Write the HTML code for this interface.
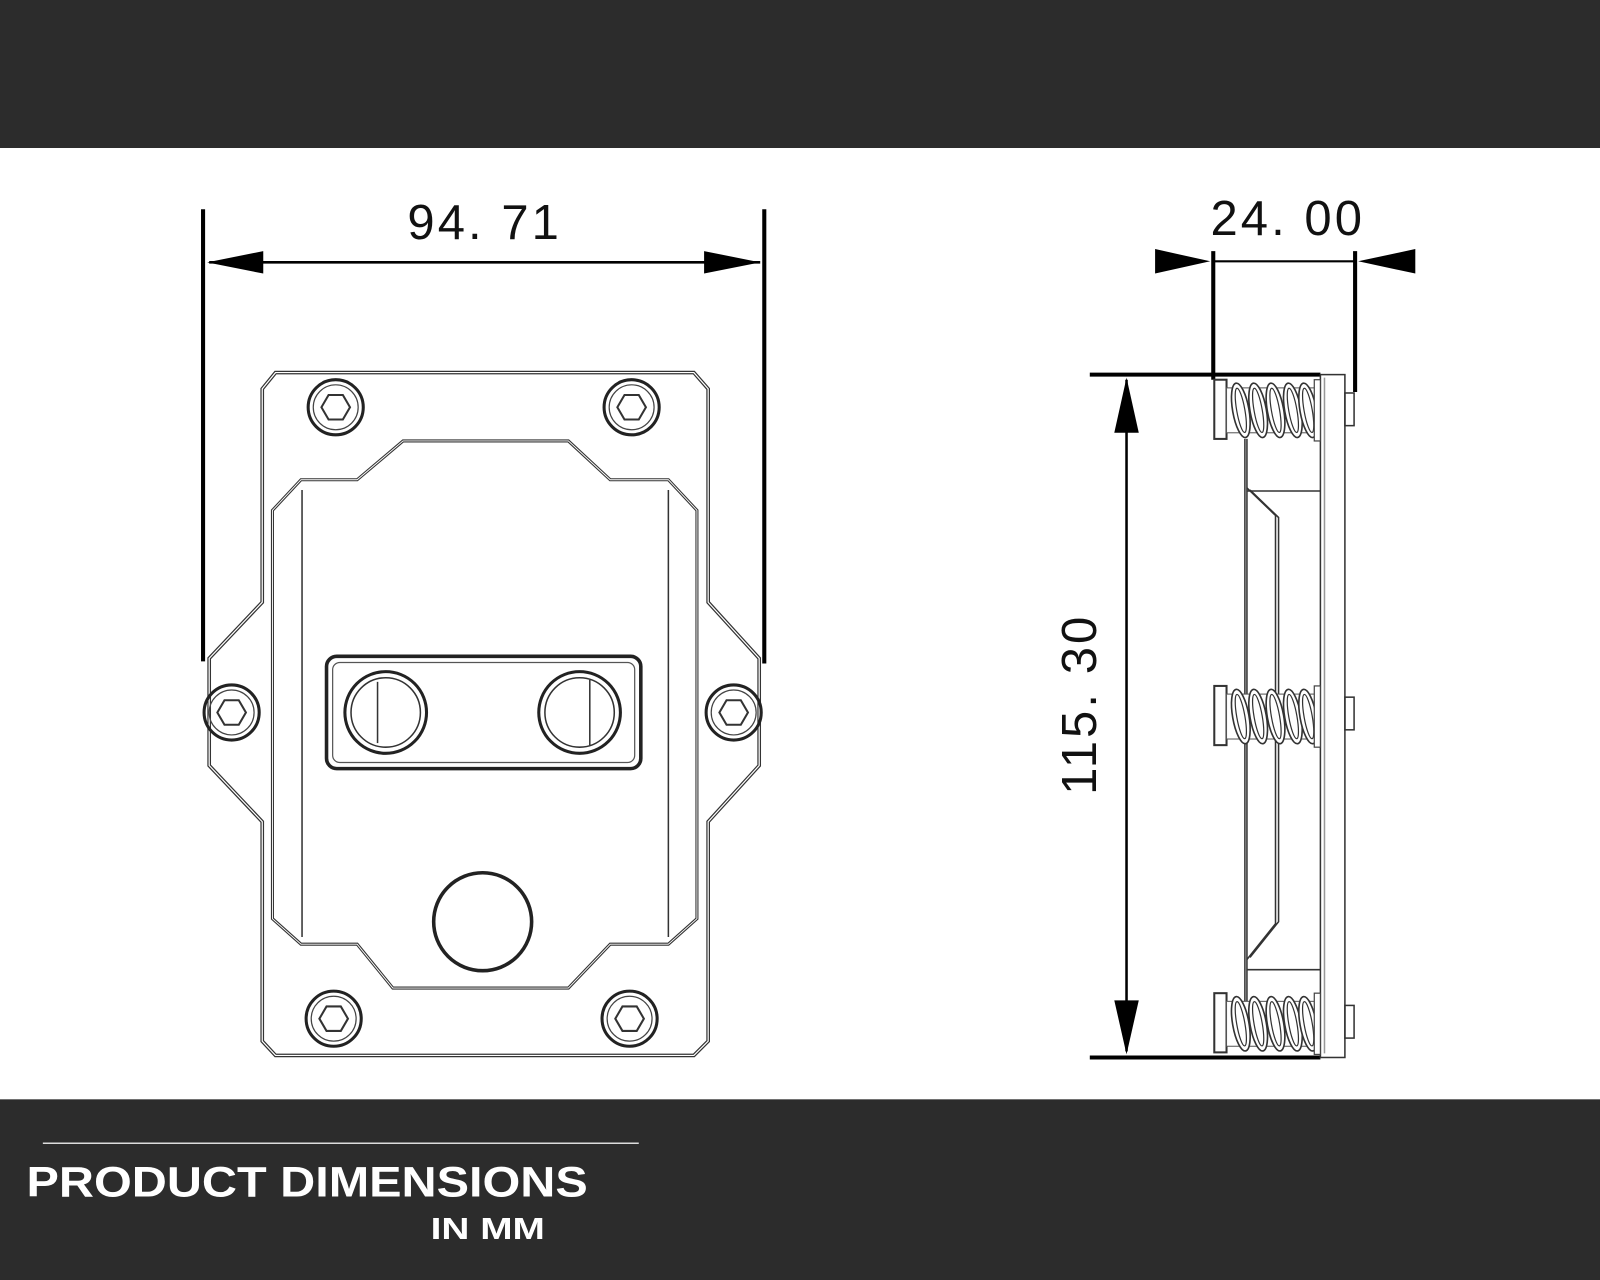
<!DOCTYPE html>
<html><head><meta charset="utf-8"><style>
html,body{margin:0;padding:0;background:#fff;width:1600px;height:1280px;overflow:hidden}
svg{display:block}
</style></head><body>
<svg width="1600" height="1280" viewBox="0 0 1568 1254" preserveAspectRatio="none" xmlns="http://www.w3.org/2000/svg">
<defs>
<g id="bolt"><circle r="27" fill="none" stroke="#222" stroke-width="3"/><circle r="22" fill="none" stroke="#444" stroke-width="1.2"/><polygon points="-14,0 -7,-12 7,-12 14,0 7,12 -7,12" fill="none" stroke="#333" stroke-width="2"/></g>
<g id="coil"><ellipse cx="0" cy="0" rx="8" ry="27" transform="rotate(-10)" fill="#fff" stroke="#333" stroke-width="1.6"/><ellipse cx="0" cy="0" rx="4" ry="22" transform="rotate(-10)" fill="none" stroke="#333" stroke-width="1.2"/></g>
<g id="spring">
<rect x="1190" y="0" width="12" height="58" fill="#fff" stroke="#333" stroke-width="2"/>
<rect x="1202" y="8" width="88" height="44" fill="#fff" stroke="#555" stroke-width="1"/>
<use href="#coil" x="1216" y="30"/>
<use href="#coil" x="1233" y="30"/>
<use href="#coil" x="1250" y="30"/>
<use href="#coil" x="1267" y="30"/>
<use href="#coil" x="1282" y="30"/>
<rect x="1288" y="0" width="6" height="60" fill="#fff" stroke="#444" stroke-width="1.2"/>
</g>
</defs>
<rect x="0" y="0" width="1568" height="145" fill="#2c2c2c"/>
<rect x="0" y="1077" width="1568" height="177" fill="#2c2c2c"/>
<line x1="42" y1="1120" x2="626" y2="1120" stroke="#ddd" stroke-width="1.5"/>
<text x="26" y="1172" textLength="550" lengthAdjust="spacingAndGlyphs" font-family="Liberation Sans, sans-serif" font-weight="bold" font-size="42" fill="#fff">PRODUCT DIMENSIONS</text>
<text x="422" y="1214" textLength="112" lengthAdjust="spacingAndGlyphs" font-family="Liberation Sans, sans-serif" font-weight="bold" font-size="30" fill="#fff">IN MM</text>

<g stroke="#000" fill="#000">
<line x1="199" y1="205" x2="199" y2="648" stroke-width="4"/>
<line x1="749" y1="205" x2="749" y2="650" stroke-width="4"/>
<line x1="205" y1="257" x2="745" y2="257" stroke-width="2.5"/>
<polygon points="203,257 258,246 258,268" stroke="none"/>
<polygon points="745,257 690,246 690,268" stroke="none"/>
</g>
<text x="475" y="234" text-anchor="middle" font-family="Liberation Sans, sans-serif" font-size="48" fill="#111" letter-spacing="3">94. 71</text>

<g fill="none" stroke="#333" stroke-width="3.6">
<path d="M270 365 L680 365 L694 381 L694 590 L744 645 L744 750 L694 805 L694 1020 L680 1034 L270 1034 L257 1020 L257 805 L205 750 L205 645 L257 590 L257 381 Z"/>
</g>
<g fill="none" stroke="#fff" stroke-width="1.2">
<path d="M270 365 L680 365 L694 381 L694 590 L744 645 L744 750 L694 805 L694 1020 L680 1034 L270 1034 L257 1020 L257 805 L205 750 L205 645 L257 590 L257 381 Z"/>
</g>
<g fill="none" stroke="#333" stroke-width="3">
<path d="M395 432 L557 432 L598 470 L655 470 L683 500 L683 900 L655 925 L598 925 L557 968 L385 968 L350 925 L295 925 L267 900 L267 500 L295 470 L350 470 Z"/>
</g>
<g fill="none" stroke="#fff" stroke-width="0.9">
<path d="M395 432 L557 432 L598 470 L655 470 L683 500 L683 900 L655 925 L598 925 L557 968 L385 968 L350 925 L295 925 L267 900 L267 500 L295 470 L350 470 Z"/>
</g>
<line x1="296" y1="480" x2="296" y2="918" stroke="#333" stroke-width="1.5"/>
<line x1="655" y1="480" x2="655" y2="918" stroke="#333" stroke-width="1.5"/>
<rect x="320" y="643" width="308" height="110" rx="10" fill="none" stroke="#222" stroke-width="3.5"/>
<rect x="326" y="649" width="296" height="98" rx="7" fill="none" stroke="#555" stroke-width="1.2"/>
<circle cx="378" cy="698" r="40" fill="none" stroke="#222" stroke-width="3"/>
<circle cx="378" cy="698" r="34" fill="none" stroke="#333" stroke-width="1.5"/>
<path d="M370 668 L370 728" fill="none" stroke="#333" stroke-width="1.5"/>
<circle cx="568" cy="698" r="40" fill="none" stroke="#222" stroke-width="3"/>
<circle cx="568" cy="698" r="34" fill="none" stroke="#333" stroke-width="1.5"/>
<path d="M578 666 L578 730" fill="none" stroke="#333" stroke-width="1.5"/>
<circle cx="473" cy="903" r="48" fill="none" stroke="#222" stroke-width="3.5"/>
<use href="#bolt" x="329" y="399"/>
<use href="#bolt" x="619" y="399"/>
<use href="#bolt" x="227" y="698"/>
<use href="#bolt" x="719" y="698"/>
<use href="#bolt" x="327" y="998"/>
<use href="#bolt" x="617" y="998"/>

<g stroke="#000" fill="#000">
<line x1="1068" y1="367" x2="1294" y2="367" stroke-width="4"/>
<line x1="1068" y1="1036" x2="1294" y2="1036" stroke-width="4"/>
<line x1="1104" y1="372" x2="1104" y2="1030" stroke-width="2.5"/>
<polygon points="1104,370 1092,424 1116,424" stroke="none"/>
<polygon points="1104,1033 1092,980 1116,980" stroke="none"/>
<line x1="1189" y1="246" x2="1189" y2="372" stroke-width="4"/>
<line x1="1328" y1="246" x2="1328" y2="384" stroke-width="4"/>
<line x1="1189" y1="256" x2="1328" y2="256" stroke-width="2"/>
<polygon points="1186,256 1132,244 1132,268" stroke="none"/>
<polygon points="1331,256 1387,244 1387,268" stroke="none"/>
</g>
<text x="1262" y="230" text-anchor="middle" font-family="Liberation Sans, sans-serif" font-size="48" fill="#111" letter-spacing="3">24. 00</text>
<text transform="translate(1074,690) rotate(-90)" text-anchor="middle" font-family="Liberation Sans, sans-serif" font-size="48" fill="#111" letter-spacing="3">115. 30</text>

<g fill="none" stroke="#333" stroke-width="1.5">
<rect x="1294" y="367" width="24" height="669"/>
<line x1="1298" y1="370" x2="1298" y2="1032" stroke="#999"/>
<rect x="1318" y="385" width="9" height="32"/>
<rect x="1318" y="683" width="9" height="32"/>
<rect x="1318" y="985" width="9" height="32"/>
<path d="M1220 430 L1220 990 M1222 430 L1222 990"/>
<path d="M1222 478 L1250 505 L1250 905 L1222 940 M1225 480 L1253 507 L1253 903 L1225 938"/>
<line x1="1222" y1="481" x2="1294" y2="481"/>
<line x1="1222" y1="950" x2="1294" y2="950"/>
</g>
<use href="#spring" x="0" y="372"/>
<use href="#spring" x="0" y="672"/>
<use href="#spring" x="0" y="973"/>
</svg>
</body></html>
